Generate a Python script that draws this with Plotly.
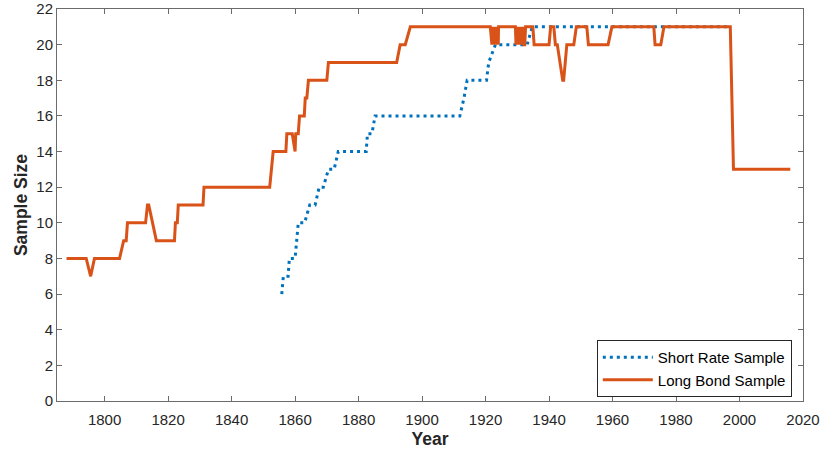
import plotly.graph_objects as go

# Short rate sample (years, sample size)
short_years = [1855.8, 1856.3, 1857.8, 1858.2, 1860.0, 1860.6, 1861.0, 1863.0, 1864.6, 1866.3,
               1867.6, 1868.9, 1870.5, 1872.3, 1873.6, 1882.4, 1882.8, 1884.2, 1885.2, 1911.9,
               1913.2, 1914.2, 1920.3, 1921.0, 1923.1, 1933.1, 1934.7, 1997.0]
short_vals = [6, 7, 7, 8, 8, 9, 10, 10, 11, 11,
              12, 12, 13, 13, 14, 14, 15, 15, 16, 16,
              17, 18, 18, 19, 20, 20, 21, 21]

# Long bond sample (years, sample size)
long_years = [1788.0, 1794.2, 1795.6, 1796.8, 1804.7, 1806.0, 1806.8, 1807.2, 1812.9, 1813.5,
              1813.9, 1816.3, 1822.0, 1822.3, 1822.9, 1823.2, 1831.0, 1831.3, 1852.0, 1852.6,
              1853.1, 1857.1, 1857.4, 1859.1, 1860.0, 1860.2, 1861.0, 1861.4, 1862.9, 1863.2,
              1863.7, 1864.2, 1870.0, 1870.5, 1892.0, 1893.1, 1894.7, 1896.3, 1921.5,
              1922.0, 1922.25, 1922.5, 1922.75, 1923.0, 1923.25, 1923.5, 1923.75, 1924.0, 1924.1,
              1929.4, 1929.6, 1929.85, 1930.1, 1930.35, 1930.6, 1930.85, 1931.1, 1931.35, 1931.6,
              1931.85, 1932.1, 1932.35, 1932.6,
              1934.9, 1935.3, 1940.0, 1940.5, 1941.5, 1942.0, 1942.6, 1943.0, 1943.6, 1944.3,
              1944.6, 1945.6, 1947.8, 1948.6, 1951.9, 1952.4, 1958.6, 1959.8, 1973.0, 1973.4,
              1975.2, 1976.2, 1997.1, 1998.1, 2016.0]
long_vals = [8, 8, 7, 8, 8, 9, 9, 10, 10, 11,
             11, 9, 9, 10, 10, 11, 11, 12, 12, 13,
             14, 14, 15, 15, 14, 15, 15, 16, 16, 17,
             17, 18, 18, 19, 19, 20, 20, 21, 21,
             20, 21, 20, 21, 20, 21, 20, 21, 20, 21,
             21, 20, 21, 20, 21, 20, 21, 20, 21, 20,
             21, 20, 20, 21,
             21, 20, 20, 21, 21, 20, 20, 19.5, 19, 18,
             18, 20, 20, 21, 21, 20, 20, 21, 21, 20,
             20, 21, 21, 13, 13]

x_ticks = [1800, 1820, 1840, 1860, 1880, 1900, 1920, 1940, 1960, 1980, 2000, 2020]
y_ticks = [0, 2, 4, 6, 8, 10, 12, 14, 16, 18, 20, 22]

BLUE = "#0072BD"
ORANGE = "#D95319"
AXC = "#6b6b6b"
FONT = "Liberation Sans, Arial, Helvetica, sans-serif"

fig = go.Figure()
fig.add_trace(go.Scatter(x=short_years, y=short_vals, mode="lines", name="Short Rate Sample",
                         line=dict(color=BLUE, width=3, dash="3px,4px")))
fig.add_trace(go.Scatter(x=long_years, y=long_vals, mode="lines", name="Long Bond Sample",
                         line=dict(color=ORANGE, width=3)))

axis_common = dict(showline=True, linecolor=AXC, linewidth=1, mirror="allticks",
                   ticks="inside", ticklen=5, tickcolor=AXC, showgrid=False, zeroline=False,
                   automargin=False,
                   tickfont=dict(family=FONT, size=15, color="#262626"))

fig.update_layout(
    width=822, height=451,
    margin=dict(l=57, r=19, t=9, b=50),
    paper_bgcolor="white", plot_bgcolor="white",
    font=dict(family=FONT, color="#262626"),
    xaxis=dict(range=[1785, 2020], tickvals=x_ticks, ticktext=[str(v) for v in x_ticks],
               ticklabelstandoff=5,
               title=dict(text="<b>Year</b>", font=dict(family=FONT, size=17.5, color="#262626"), standoff=5),
               **axis_common),
    yaxis=dict(range=[0, 22], tickvals=y_ticks, ticktext=[str(v) for v in y_ticks],
               title=dict(text="<b>Sample Size</b>", font=dict(family=FONT, size=17.5, color="#262626"), standoff=4),
               **axis_common),
    legend=dict(x=0.985, y=0.01, xanchor="right", yanchor="bottom",
                bgcolor="white", bordercolor="#262626", borderwidth=1,
                font=dict(family=FONT, size=15, color="#000000"),
                itemwidth=50, tracegroupgap=0),
    showlegend=True,
)

fig.write_html("out.html",
               config={"displayModeBar": False},
               post_script="document.body.style.margin='0';document.body.style.overflow='hidden';")
